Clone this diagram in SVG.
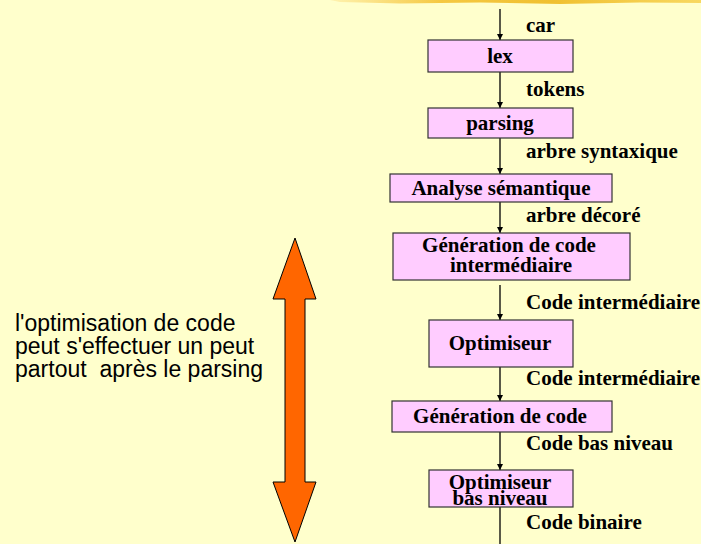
<svg xmlns="http://www.w3.org/2000/svg" width="701" height="544" viewBox="0 0 701 544">
<defs>
<linearGradient id="brush" x1="0" y1="0" x2="1" y2="0">
<stop offset="0" stop-color="#FFF3B0"/>
<stop offset="0.3" stop-color="#F5C842"/>
<stop offset="0.6" stop-color="#F0C030"/>
<stop offset="1" stop-color="#F8D860"/>
</linearGradient>
<marker id="ah" markerWidth="8" markerHeight="8" refX="6" refY="3" orient="auto" markerUnits="userSpaceOnUse">
<path d="M0,0 L6,3 L0,6 Z" fill="#000"/>
</marker>
<style>
.box{fill:#FFCCFF;stroke:#333;stroke-width:1.2}
.t{font-family:"Liberation Serif","Times New Roman",serif;font-weight:bold;font-size:21px;fill:#000}
.c{text-anchor:middle}
.lbl{font-family:"Liberation Serif","Times New Roman",serif;font-weight:bold;font-size:21px;fill:#000}
.side{font-family:"Liberation Sans",Arial,sans-serif;font-size:23px;fill:#000;white-space:pre}
.ln{stroke:#000;stroke-width:1.3;fill:none}
</style>
</defs>
<rect width="701" height="544" fill="#FFFFCC"/>
<path d="M330,0 L701,0 L701,3 L640,2.5 L560,4 L480,2.5 L400,3.5 L340,2 Z" fill="url(#brush)"/>

<g id="connectors">
<line class="ln" x1="500" y1="9" x2="500" y2="40" marker-end="url(#ah)"/>
<line class="ln" x1="500" y1="72" x2="500" y2="108" marker-end="url(#ah)"/>
<line class="ln" x1="500" y1="138" x2="500" y2="174" marker-end="url(#ah)"/>
<line class="ln" x1="500" y1="202" x2="500" y2="233" marker-end="url(#ah)"/>
<line class="ln" x1="500" y1="285" x2="500" y2="320" marker-end="url(#ah)"/>
<line class="ln" x1="500" y1="367" x2="500" y2="401" marker-end="url(#ah)"/>
<line class="ln" x1="500" y1="432" x2="500" y2="470" marker-end="url(#ah)"/>
<line class="ln" x1="500" y1="507" x2="500" y2="544"/>
</g>

<g id="labels">
<text class="lbl" x="526" y="32">car</text>
<text class="lbl" x="526" y="96">tokens</text>
<text class="lbl" x="526" y="158">arbre syntaxique</text>
<text class="lbl" x="526" y="222">arbre décoré</text>
<text class="lbl" x="526" y="309">Code intermédiaire</text>
<text class="lbl" x="526" y="385">Code intermédiaire</text>
<text class="lbl" x="526" y="450">Code bas niveau</text>
<text class="lbl" x="526" y="529">Code binaire</text>
</g>

<g id="lex">
<rect class="box" x="428" y="40" width="145" height="32"/>
<text class="t c" x="500" y="63">lex</text>
</g>
<g id="parsing">
<rect class="box" x="428" y="108" width="145" height="30"/>
<text class="t c" x="500" y="130">parsing</text>
</g>
<g id="analyse">
<rect class="box" x="390" y="174" width="222" height="28"/>
<text class="t c" x="501" y="195">Analyse sémantique</text>
</g>
<g id="gen-inter">
<rect class="box" x="393" y="233" width="237" height="47"/>
<text class="t c" x="509" y="252">Génération de code</text>
<text class="t c" x="511" y="272">intermédiaire</text>
</g>
<g id="optimiseur">
<rect class="box" x="429" y="320" width="144" height="47"/>
<text class="t c" x="500" y="350">Optimiseur</text>
</g>
<g id="gen-code">
<rect class="box" x="392" y="401" width="220" height="31"/>
<text class="t c" x="500" y="423">Génération de code</text>
</g>
<g id="opt-bas">
<rect class="box" x="429" y="470" width="144" height="37"/>
<text class="t c" x="500" y="489">Optimiseur</text>
<text class="t c" x="500" y="505">bas niveau</text>
</g>

<g id="note">
<text class="side" x="15" y="331">l'optimisation de code</text>
<text class="side" x="15" y="354">peut s'effectuer un peut</text>
<text class="side" x="15" y="377">partout  après le parsing</text>
</g>

<g id="double-arrow">
<polygon points="295,238 316,299 305,299 305,482 316,482 295,542 273,482 285,482 285,299 273,299" fill="#FF6600" stroke="#000" stroke-width="1"/>
</g>
</svg>
